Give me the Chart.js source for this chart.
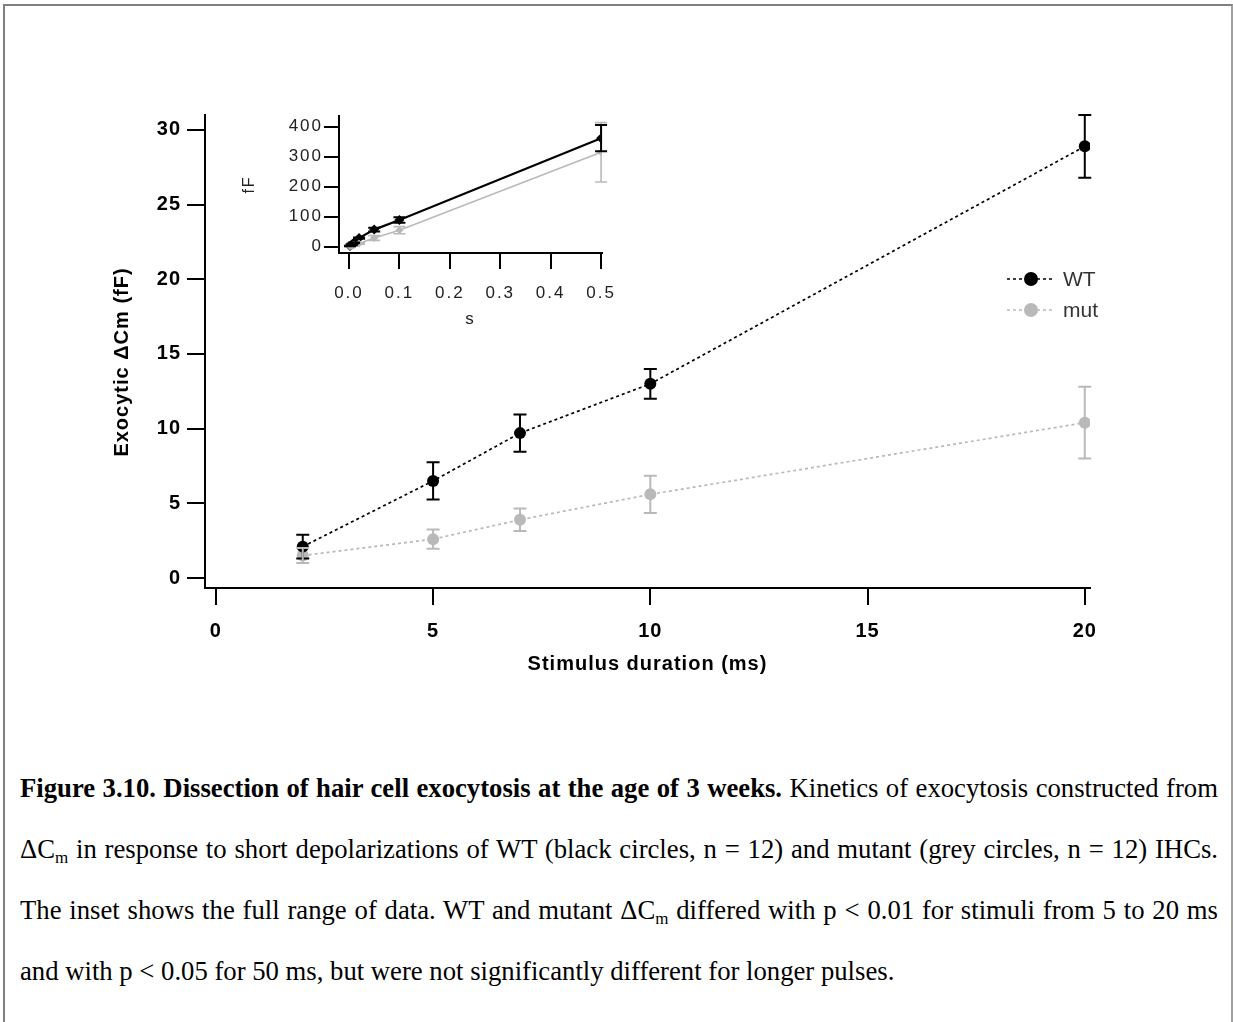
<!DOCTYPE html>
<html>
<head>
<meta charset="utf-8">
<script src="https://cdn.jsdelivr.net/npm/chart.js@4.4.1/dist/chart.umd.min.js"></script>
<style>
  html, body { margin: 0; padding: 0; background: #fff; }
  body { width: 1233px; height: 1022px; position: relative; overflow: hidden; }
  #frame { position: absolute; left: 3px; top: 4px; width: 1226px; height: 1030px;
           border-top: 2px solid #808080; border-left: 2px solid #808080; border-right: 2px solid #a0a0a0; }
  #main { position: absolute; left: 0; top: 0; }
  #inset { position: absolute; left: 230px; top: 100px; }
  #caption { position: absolute; left: 20px; top: 758px; width: 1198px;
             font-family: 'Liberation Serif', 'Times New Roman', serif; font-size: 26.7px;
             line-height: 61px; text-align: justify; color: #000; }
  #caption sub { font-size: 17px; vertical-align: -5px; line-height: 0; }
</style>
</head>
<body>
<div id="frame"></div>
<canvas id="main" width="1233" height="700"></canvas>
<canvas id="inset" width="400" height="240"></canvas>
<div id="caption"><b>Figure 3.10. Dissection of hair cell exocytosis at the age of 3 weeks.</b> Kinetics of exocytosis constructed from &Delta;C<sub>m</sub> in response to short depolarizations of WT (black circles, n = 12) and mutant (grey circles, n = 12) IHCs. The inset shows the full range of data. WT and mutant &Delta;C<sub>m</sub> differed with p &lt; 0.01 for stimuli from 5 to 20 ms and with p &lt; 0.05 for 50 ms, but were not significantly different for longer pulses.</div>
<script>
// ---- Main chart data (stimulus duration in ms, exocytic ΔCm in fF) ----
const durationsMs = [2, 5, 7, 10, 20];
const wtValues    = [2.1, 6.5, 9.7, 13.0, 28.9];
const wtErrors    = [0.8, 1.25, 1.25, 1.0, 2.1];
const mutValues   = [1.5, 2.6, 3.9, 5.6, 10.4];
const mutErrors   = [0.5, 0.65, 0.75, 1.25, 2.4];
const mainXTicks  = [0, 5, 10, 15, 20];
const mainYTicks  = [0, 5, 10, 15, 20, 25, 30];

// ---- Inset data (stimulus duration in s, ΔCm in fF) ----
const insetDurationsS = [0.002, 0.005, 0.007, 0.01, 0.02, 0.05, 0.1, 0.5];
const insetWt         = [2.1, 6.5, 9.7, 13.0, 28.9, 57, 89, 362];
const insetWtErr      = [0.8, 1.25, 1.25, 1.0, 2.1, 6, 9, 44];
const insetMut        = [1.5, 2.6, 3.9, 5.6, 10.4, 29, 55, 315];
const insetMutErr     = [0.5, 0.65, 0.75, 1.25, 2.4, 8, 12, 99];
const insetXTicks     = [0.0, 0.1, 0.2, 0.3, 0.4, 0.5];
const insetYTicks     = [0, 100, 200, 300, 400];

const seriesNames = ['WT', 'mut'];
const mainYTitle = 'Exocytic \u0394Cm (fF)';
const BLACK = '#000000';
const GREY = '#b9b9b9';

function pts(xs, ys) { return xs.map((x, i) => ({ x: x, y: ys[i] })); }

function spacingPlugin(px) {
  const apply = chart => { chart.ctx.letterSpacing = px; };
  return { id: 'spacing', beforeLayout: apply, beforeDraw: apply, beforeDatasetsDraw: apply };
}

const errorBarPlugin = {
  id: 'errorBars',
  afterDatasetsDraw(chart) {
    const ctx = chart.ctx;
    const xs = chart.scales.x, ys = chart.scales.y;
    chart.data.datasets.forEach(ds => {
      const errs = ds.errors;
      if (!errs) return;
      ctx.save();
      ctx.strokeStyle = ds.errColor;
      ctx.lineWidth = ds.errWidth;
      ds.data.forEach((p, i) => {
        const px = xs.getPixelForValue(p.x);
        const top = ys.getPixelForValue(p.y + errs[i]);
        const bot = ys.getPixelForValue(p.y - errs[i]);
        const c = ds.capHalf;
        ctx.beginPath();
        ctx.moveTo(px, top); ctx.lineTo(px, bot);
        ctx.moveTo(px - c, top); ctx.lineTo(px + c, top);
        ctx.moveTo(px - c, bot); ctx.lineTo(px + c, bot);
        ctx.stroke();
      });
      ctx.restore();
    });
  }
};

const legendPlugin = {
  id: 'customLegend',
  afterDraw(chart) {
    const ctx = chart.ctx;
    const x0 = 1007, x1 = 1053, tx = 1063;
    const rows = [279, 310];
    chart.data.datasets.forEach((ds, i) => {
      const y = rows[i];
      ctx.save();
      ctx.letterSpacing = '0px';
      ctx.strokeStyle = ds.borderColor;
      ctx.lineWidth = 1.6;
      ctx.setLineDash([3, 3]);
      ctx.beginPath(); ctx.moveTo(x0, y); ctx.lineTo(x1, y); ctx.stroke();
      ctx.setLineDash([]);
      ctx.fillStyle = ds.pointBackgroundColor;
      ctx.beginPath(); ctx.arc(1031, y, 7, 0, Math.PI * 2); ctx.fill();
      ctx.fillStyle = '#333';
      ctx.font = '21px "Liberation Sans", Arial, sans-serif';
      ctx.textBaseline = 'middle';
      ctx.fillText(ds.label, tx, y + 1);
      ctx.restore();
    });
  }
};

const yTitlePlugin = {
  id: 'yTitle',
  afterDraw(chart) {
    const ctx = chart.ctx;
    ctx.save();
    ctx.translate(122, 362);
    ctx.rotate(-Math.PI / 2);
    ctx.fillStyle = BLACK;
    ctx.font = 'bold 20px "Liberation Sans", Arial, sans-serif';
    ctx.textAlign = 'center';
    ctx.textBaseline = 'middle';
    ctx.fillText(mainYTitle, 0, 0);
    ctx.restore();
  }
};

const mainCtx = document.getElementById('main').getContext('2d');
new Chart(mainCtx, {
  type: 'scatter',
  data: {
    datasets: [
      { label: seriesNames[0], data: pts(durationsMs, wtValues), errors: wtErrors,
        showLine: true, borderColor: BLACK, borderWidth: 1.7, borderDash: [3, 3],
        pointRadius: 6, pointStyle: 'circle', pointBackgroundColor: BLACK, pointBorderWidth: 0,
        errColor: BLACK, errWidth: 2, capHalf: 6.5 },
      { label: seriesNames[1], data: pts(durationsMs, mutValues), errors: mutErrors,
        showLine: true, borderColor: GREY, borderWidth: 1.7, borderDash: [3, 3],
        pointRadius: 6, pointStyle: 'circle', pointBackgroundColor: GREY, pointBorderWidth: 0,
        errColor: GREY, errWidth: 2, capHalf: 6.5 }
    ]
  },
  options: {
    responsive: false, animation: false,
    layout: { padding: { left: 0, top: 115, right: 143, bottom: 0 } },
    plugins: { legend: { display: false }, tooltip: { enabled: false } },
    scales: {
      x: {
        type: 'linear', min: -0.25, max: 20.12,
        afterBuildTicks: s => { s.ticks = mainXTicks.map(v => ({ value: v })); },
        afterFit: s => { s.height = 112; },
        grid: { display: true, drawOnChartArea: false, drawTicks: true, tickLength: 17, color: BLACK, lineWidth: 2 },
        border: { display: true, color: BLACK, width: 2 },
        ticks: { color: BLACK, padding: 14, font: { family: 'Liberation Sans', size: 20, weight: 'bold' } },
        title: { display: true, text: 'Stimulus duration (ms)', color: BLACK,
                 font: { family: 'Liberation Sans', size: 20, weight: 'bold' }, padding: { top: 0, bottom: 24 } }
      },
      y: {
        type: 'linear', min: -0.67, max: 31.0,
        afterBuildTicks: s => { s.ticks = mainYTicks.map(v => ({ value: v })); },
        afterFit: s => { s.width = 205; },
        grid: { display: true, drawOnChartArea: false, drawTicks: true, tickLength: 18, color: BLACK, lineWidth: 2 },
        border: { display: true, color: BLACK, width: 2 },
        ticks: { color: BLACK, padding: 6, font: { family: 'Liberation Sans', size: 20, weight: 'bold' } },
        title: { display: false }
      }
    }
  },
  plugins: [spacingPlugin('1px'), errorBarPlugin, legendPlugin, yTitlePlugin]
});

const insetCtx = document.getElementById('inset').getContext('2d');
new Chart(insetCtx, {
  type: 'scatter',
  data: {
    datasets: [
      { label: seriesNames[1], data: pts(insetDurationsS, insetMut), errors: insetMutErr,
        showLine: true, borderColor: GREY, borderWidth: 1.6,
        pointRadius: 4, pointStyle: 'rectRot', pointBackgroundColor: GREY, pointBorderWidth: 0,
        errColor: GREY, errWidth: 1.6, capHalf: 6 },
      { label: seriesNames[0], data: pts(insetDurationsS, insetWt), errors: insetWtErr,
        showLine: true, borderColor: BLACK, borderWidth: 2.2,
        pointRadius: 5, pointStyle: 'rectRot', pointBackgroundColor: BLACK, pointBorderWidth: 0,
        errColor: BLACK, errWidth: 2, capHalf: 6 }
    ]
  },
  options: {
    responsive: false, animation: false,
    layout: { padding: { left: 0, top: 16, right: 27, bottom: 0 } },
    plugins: { legend: { display: false }, tooltip: { enabled: false } },
    scales: {
      x: {
        type: 'linear', min: -0.0198, max: 0.502,
        afterBuildTicks: s => { s.ticks = insetXTicks.map(v => ({ value: v })); },
        afterFit: s => { s.height = 87; },
        grid: { display: true, drawOnChartArea: false, drawTicks: true, tickLength: 16, color: BLACK, lineWidth: 2 },
        border: { display: true, color: BLACK, width: 2 },
        ticks: { color: '#222', padding: 14, callback: v => v.toFixed(1),
                 font: { family: 'Liberation Sans', size: 17 } },
        title: { display: true, text: 's', color: '#222',
                 font: { family: 'Liberation Sans', size: 17 }, padding: { top: 0, bottom: 10 } }
      },
      y: {
        type: 'linear', min: -21, max: 436,
        afterBuildTicks: s => { s.ticks = insetYTicks.map(v => ({ value: v })); },
        afterFit: s => { s.width = 109; },
        grid: { display: true, drawOnChartArea: false, drawTicks: true, tickLength: 15, color: BLACK, lineWidth: 2 },
        border: { display: true, color: BLACK, width: 2 },
        ticks: { color: '#222', padding: 1, font: { family: 'Liberation Sans', size: 17 } },
        title: { display: true, text: 'fF', color: '#222',
                 font: { family: 'Liberation Sans', size: 16 }, padding: { top: 10, bottom: 0 } }
      }
    }
  },
  plugins: [spacingPlugin('2px'), errorBarPlugin]
});
</script>
</body>
</html>
